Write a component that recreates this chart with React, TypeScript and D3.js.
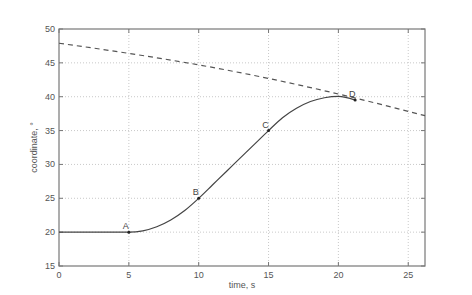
import React from "react";
import * as d3 from "d3";

const xTicks = [0, 5, 10, 15, 20, 25];
const yTicks = [15, 20, 25, 30, 35, 40, 45, 50];
const curveT = [0, 5, 6, 7, 8, 9, 10, 11, 12, 13, 14, 15, 16, 17, 18, 19, 20, 21.2];
const curveV = [20, 20, 20.2, 20.8, 21.8, 23.2, 25, 27, 29, 31, 33, 35, 36.9, 38.3, 39.3, 39.85, 40.05, 39.5];
const dashT = [0, 5, 10, 15, 20, 26.2];
const dashV = [47.9, 46.4, 44.7, 42.7, 40.4, 37.2];
const pointNames = ["A", "B", "C", "D"];
const pointT = [5, 10, 15, 21.2];
const pointV = [20, 25, 35, 39.5];

export default function App() {
  const W = 472, H = 295;
  const L = 59, R = 425, T = 29, B = 266;
  const x = d3.scaleLinear().domain([0, 26.2]).range([L, R]);
  const y = d3.scaleLinear().domain([15, 50]).range([B, T]);
  const line = d3.line<number>().x((_, i) => x(curveT[i])).y((d) => y(d)).curve(d3.curveMonotoneX);
  const dline = d3.line<number>().x((_, i) => x(dashT[i])).y((d) => y(d)).curve(d3.curveMonotoneX);
  const font = "Liberation Sans, Arial, sans-serif";
  const tc = "#555";
  return (
    <svg width={W} height={H} style={{ position: "absolute", left: 0, top: 0, background: "#fff" }} fontFamily={font}>
      <rect x={0} y={0} width={W} height={H} fill="#fff" />
      {xTicks.filter((t) => t > 0).map((t) => (
        <line key={"gx" + t} x1={x(t)} x2={x(t)} y1={T} y2={B} stroke="#bbb" strokeWidth={0.8} strokeDasharray="1,2" />
      ))}
      {yTicks.filter((t) => t > 15 && t < 50).map((t) => (
        <line key={"gy" + t} x1={L} x2={R} y1={y(t)} y2={y(t)} stroke="#bbb" strokeWidth={0.8} strokeDasharray="1,2" />
      ))}
      {xTicks.map((t) => (
        <g key={"tx" + t}>
          <line x1={x(t)} x2={x(t)} y1={B} y2={B - 4} stroke="#777" />
          <line x1={x(t)} x2={x(t)} y1={T} y2={T + 4} stroke="#777" />
          <text x={x(t)} y={B + 12} textAnchor="middle" fontSize={9} fill={tc}>{t}</text>
        </g>
      ))}
      {yTicks.map((t) => (
        <g key={"ty" + t}>
          <line x1={L} x2={L + 4} y1={y(t)} y2={y(t)} stroke="#777" />
          <line x1={R} x2={R - 4} y1={y(t)} y2={y(t)} stroke="#777" />
          <text x={L - 4} y={y(t) + 3} textAnchor="end" fontSize={9} fill={tc}>{t}</text>
        </g>
      ))}
      <rect x={L} y={T} width={R - L} height={B - T} fill="none" stroke="#777" strokeWidth={1.2} />
      <path d={dline(dashV) || ""} fill="none" stroke="#555" strokeWidth={1.2} strokeDasharray="5,4" />
      <path d={line(curveV) || ""} fill="none" stroke="#444" strokeWidth={1.2} />
      {pointNames.map((n, i) => (
        <g key={n}>
          <circle cx={x(pointT[i])} cy={y(pointV[i])} r={1.5} fill="#222" />
          <text x={x(pointT[i]) - 3} y={y(pointV[i]) - 3} textAnchor="middle" fontSize={9} fill="#444">{n}</text>
        </g>
      ))}
      <text x={(L + R) / 2} y={288} textAnchor="middle" fontSize={9} fill={tc}>time, s</text>
      <text transform={`translate(37,${(T + B) / 2}) rotate(-90)`} textAnchor="middle" fontSize={9} fill={tc}>coordinate, °</text>
    </svg>
  );
}
